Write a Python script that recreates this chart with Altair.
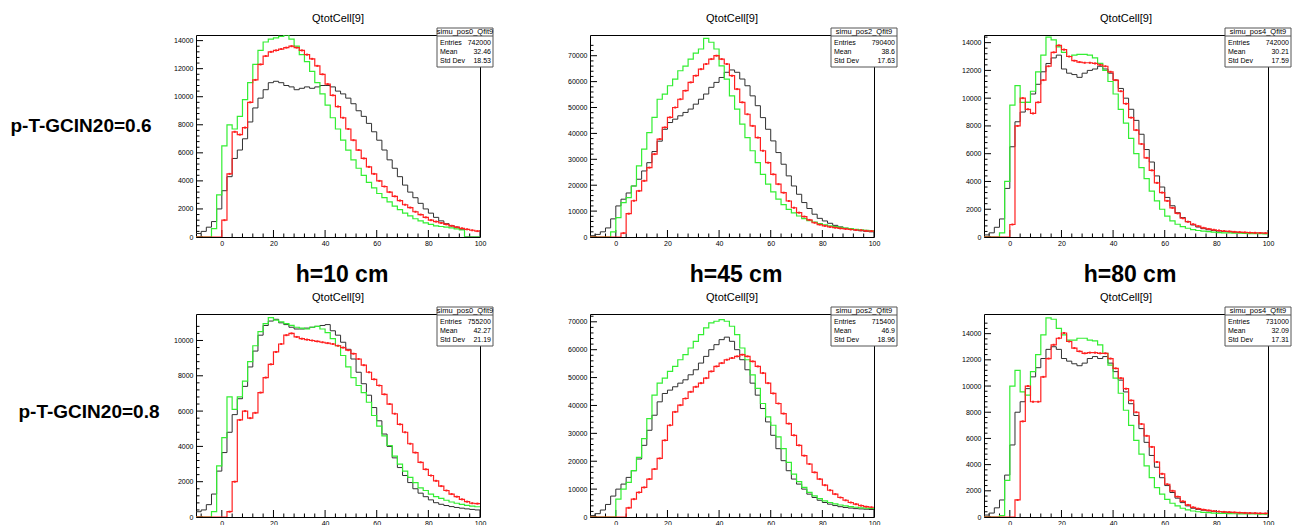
import altair as alt
import pandas as pd

FONT = "Liberation Sans"

# lower bin edges (2-unit bins from -10 to 100)
BIN_EDGES = list(range(-10, 100, 2))
X_END = 100
X_MAJOR = [0, 20, 40, 60, 80, 100]
X_MINOR = [-8, -4, 4, 8, 12, 16, 24, 28, 32, 36, 44, 48, 52, 56, 64, 68, 72, 76, 84, 88, 92, 96]

# ---- row 1 : p-T-GCIN20=0.6 ----
P1_BLACK = [250, 400, 700, 1100, 2000, 3300, 4300, 5600, 6200, 7000,
            8200, 9200, 9900, 10500, 11000, 11100, 11000, 10800, 10700, 10500,
            10600, 10700, 10600, 10700, 10800, 10800, 10700, 10400, 10200, 9900,
            9500, 9000, 8600, 8100, 7500, 6900, 6200, 5500, 4900, 4300,
            3700, 3200, 2800, 2400, 2000, 1700, 1400, 1150, 950, 800,
            700, 550, 0, 0, 0]
P1_GREEN = [0, 0, 0, 600, 3000, 6500, 8000, 7700, 8600, 9800,
            11000, 12300, 13300, 13900, 14100, 14200, 14300, 14400, 14100, 13600,
            13000, 12500, 11800, 11000, 10200, 9400, 8500, 7700, 6900, 6200,
            5500, 4900, 4400, 3900, 3500, 3100, 2800, 2500, 2200, 1950,
            1700, 1500, 1300, 1150, 1000, 900, 800, 750, 700, 650,
            580, 500, 0, 0, 0]
P1_RED = [0, 0, 0, 0, 0, 1200, 4500, 7500, 7300, 7800,
          9600, 11200, 12300, 12900, 13200, 13300, 13400, 13500, 13600, 13500,
          13300, 13000, 12700, 12200, 11600, 10900, 10100, 9300, 8500, 7700,
          6900, 6200, 5600, 5000, 4500, 4000, 3600, 3200, 2900, 2600,
          2300, 2100, 1800, 1600, 1400, 1200, 1100, 1000, 900, 800,
          700, 620, 550, 480, 420]

P2_BLACK = [500, 1000, 2000, 3500, 7000, 12000, 14600, 17000, 19700, 22300,
            25500, 28700, 33000, 37000, 41600, 44200, 45500, 46800, 48100, 49400,
            51300, 53200, 55200, 57800, 59700, 61600, 63600, 64500, 63600, 61000,
            58400, 54500, 50700, 46100, 41600, 37100, 32600, 28100, 23600, 19700,
            16500, 13300, 11000, 8800, 7200, 6200, 5300, 4500, 3900, 3400,
            3000, 2700, 2400, 2200, 2000]
P2_GREEN = [0, 0, 0, 0, 2000, 7500, 13300, 15200, 19700, 27500,
            33900, 40300, 46200, 53200, 55200, 58400, 61000, 64200, 66000, 68700,
            71000, 72600, 76700, 75200, 72600, 66100, 61000, 54500, 49400, 43600,
            38400, 33300, 28700, 24200, 20400, 17400, 14600, 12500, 10700, 9300,
            8100, 7100, 6300, 5800, 5200, 4700, 4300, 4000, 3700, 3400,
            3200, 3000, 2800, 2600, 2400]
P2_RED = [0, 0, 0, 0, 0, 0, 1500, 9000, 14000, 17800,
          21700, 26800, 32000, 37800, 42300, 46200, 50000, 53200, 56500, 59700,
          62300, 64800, 66800, 68700, 70000, 68700, 66800, 62300, 57100, 52000,
          47400, 42900, 38400, 33300, 28700, 24200, 20400, 17100, 13900, 11300,
          9400, 7900, 6600, 5500, 4800, 4300, 3900, 3600, 3300, 3100,
          2900, 2700, 2600, 2400, 2300]

P3_BLACK = [150, 300, 700, 1300, 3500, 6500, 8300, 9000, 9700, 10300,
            11000, 11900, 12500, 12900, 13100, 12100, 11800, 11700, 11500, 11800,
            12000, 12100, 12300, 12100, 11800, 11300, 10700, 10000, 9200, 8400,
            7400, 6300, 5400, 4400, 3600, 2850, 2250, 1750, 1400, 1100,
            870, 720, 600, 520, 470, 430, 400, 370, 340, 320,
            300, 290, 280, 270, 260]
P3_GREEN = [0, 0, 0, 300, 4000, 9500, 10900, 9700, 9700, 10500,
            11900, 13100, 14400, 14200, 13700, 13300, 13000, 13100, 13150, 13150,
            13100, 12900, 12500, 12000, 11200, 10300, 9200, 8200, 7100, 6000,
            5000, 4200, 3300, 2600, 2000, 1500, 1160, 920, 750, 630,
            530, 470, 420, 380, 350, 320, 300, 290, 280, 270,
            260, 250, 240, 240, 230]
P3_RED = [0, 0, 0, 0, 0, 900, 8000, 10000, 9200, 8900,
          9700, 11300, 12300, 13300, 13800, 13500, 13000, 12700, 12600, 12550,
          12550, 12500, 12400, 12300, 11900, 11300, 10500, 9600, 8600, 7700,
          6700, 5700, 4800, 3900, 3200, 2600, 2100, 1700, 1350, 1100,
          920, 780, 660, 580, 520, 470, 430, 400, 370, 350,
          330, 310, 300, 290, 280]

# ---- row 2 : p-T-GCIN20=0.8 ----
P4_BLACK = [300, 400, 700, 1300, 2600, 3650, 4800, 5800, 6700, 7400,
            8500, 9400, 10300, 10850, 11100, 11200, 11000, 10900, 10750, 10650,
            10650, 10700, 10750, 10800, 10850, 10900, 10550, 10300, 9900, 9500,
            8950, 8200, 7550, 6900, 6200, 5450, 4700, 4000, 3350, 2800,
            2350, 1950, 1600, 1350, 1150, 970, 810, 720, 650, 590,
            540, 500, 460, 430, 400]
P4_GREEN = [0, 0, 0, 300, 2900, 4500, 6800, 6100, 6800, 7700,
            8800, 9700, 10500, 10950, 11300, 11150, 11050, 10950, 10850, 10750,
            10700, 10650, 10750, 10800, 10650, 10450, 10100, 9700, 9150, 8500,
            7900, 7450, 7050, 6500, 5750, 5150, 4600, 4050, 3450, 3000,
            2600, 2250, 1950, 1650, 1500, 1300, 1150, 1050, 950, 850,
            780, 720, 660, 620, 580]
P4_RED = [0, 0, 0, 0, 0, 0, 300, 2000, 5500, 6000,
          5600, 5900, 7050, 7900, 8650, 9350, 9800, 10300, 10400, 10200,
          10100, 10050, 10000, 9950, 9900, 9850, 9800, 9700, 9600, 9450,
          9250, 8950, 8600, 8200, 7800, 7450, 6950, 6400, 5850, 5250,
          4800, 4150, 3650, 3100, 2700, 2350, 2050, 1750, 1500, 1300,
          1150, 1000, 870, 780, 760]

P5_BLACK = [500, 1200, 2500, 4500, 7500, 10000, 11800, 14200, 16600, 20800,
            25700, 31100, 36500, 41300, 44300, 45500, 46700, 48000, 49200, 51000,
            52800, 55200, 57600, 60000, 61800, 63600, 64500, 63000, 60000, 56400,
            52800, 48000, 43700, 38900, 34100, 29300, 24500, 20200, 16600, 13600,
            11800, 10000, 8200, 7000, 6000, 5200, 4600, 4100, 3700, 3400,
            3200, 3000, 2900, 2800, 2700]
P5_GREEN = [0, 0, 0, 0, 0, 6400, 10000, 12400, 16600, 21400,
            28100, 35300, 43700, 48000, 49800, 52200, 54000, 56400, 58200, 60600,
            63000, 65400, 67800, 69600, 70200, 70800, 70200, 68400, 65400, 60600,
            56400, 51000, 46100, 40700, 35900, 32900, 28700, 24500, 19600, 15400,
            12700, 10600, 8800, 7600, 6600, 5800, 5200, 4700, 4300, 4000,
            3700, 3500, 3300, 3200, 3100]
P5_RED = [0, 0, 0, 0, 0, 0, 0, 3300, 6400, 8800,
          10600, 13600, 17200, 21000, 27500, 32900, 37700, 40100, 42500, 44900,
          46700, 48000, 49800, 52200, 54000, 55200, 56400, 57000, 57600, 58200,
          57600, 55800, 54000, 51600, 48000, 44300, 40700, 37100, 33500, 29300,
          25700, 22000, 19000, 16000, 13600, 11400, 9600, 8200, 7000, 6000,
          5200, 4600, 4100, 3700, 3500]

P6_BLACK = [150, 300, 700, 1300, 3200, 5500, 8000, 8800, 9800, 10700,
            11400, 12100, 12800, 13000, 12800, 12100, 11900, 11700, 11550, 11750,
            12100, 12250, 12100, 12250, 11750, 11100, 10450, 9550, 8650, 7750,
            6750, 5700, 4700, 3800, 3000, 2400, 1870, 1440, 1100, 850,
            670, 580, 520, 470, 430, 400, 370, 350, 330, 310,
            300, 290, 280, 270, 260]
P6_GREEN = [0, 0, 0, 100, 2800, 10000, 11200, 9550, 9300, 11100,
            12400, 13900, 15200, 15100, 14400, 13900, 13500, 13500, 13650, 13650,
            13500, 13450, 13150, 12500, 11600, 10600, 9450, 8150, 7000, 5850,
            4800, 3900, 3000, 2250, 1750, 1350, 1050, 850, 670, 540,
            460, 400, 360, 330, 300, 280, 270, 260, 250, 240,
            240, 230, 230, 220, 220]
P6_RED = [0, 0, 0, 0, 0, 0, 1300, 7300, 10000, 8800,
          8800, 10700, 12100, 13150, 13650, 14050, 13400, 12900, 12650, 12500,
          12550, 12550, 12500, 12500, 12100, 11350, 10600, 9800, 8900, 8000,
          7100, 6200, 5350, 4200, 3300, 2500, 2000, 1550, 1200, 920,
          740, 640, 560, 500, 450, 420, 390, 370, 350, 330,
          310, 300, 290, 280, 270]

Y_MAX = [14400, 78000, 14550, 11500, 72800, 15500]
Y_LABELS_14K = [0, 2000, 4000, 6000, 8000, 10000, 12000, 14000]
Y_LABELS_10K = [0, 2000, 4000, 6000, 8000, 10000]
Y_LABELS_70K = [0, 10000, 20000, 30000, 40000, 50000, 60000, 70000]

STAT_NAMES = ["simu_pos0_Qfit9", "simu_pos2_Qfit9", "simu_pos4_Qfit9",
              "simu_pos0_Qfit9", "simu_pos2_Qfit9", "simu_pos4_Qfit9"]
STAT_ENTRIES = ["742000", "790400", "742000", "755200", "715400", "731000"]
STAT_MEAN = ["32.46", "38.6", "30.21", "42.27", "46.9", "32.09"]
STAT_STD = ["18.53", "17.63", "17.59", "21.19", "18.96", "17.31"]

ROW_LABELS = ["p-T-GCIN20=0.6", "p-T-GCIN20=0.8"]
COL_LABELS = ["h=10 cm", "h=45 cm", "h=80 cm"]
TITLE = "QtotCell[9]"

for arr in [P1_BLACK, P1_GREEN, P1_RED, P2_BLACK, P2_GREEN, P2_RED, P3_BLACK, P3_GREEN, P3_RED,
            P4_BLACK, P4_GREEN, P4_RED, P5_BLACK, P5_GREEN, P5_RED, P6_BLACK, P6_GREEN, P6_RED]:
    assert len(arr) == len(BIN_EDGES), len(arr)

BLACK = "#303030"
GREEN = "#33ee33"
RED = "#ff2020"
W = 284
H_TOP = 202
H_BOT = 203
ONE = pd.DataFrame({"a": [0]})


def step_df(vals):
    return pd.DataFrame({"x": BIN_EDGES + [X_END], "n": list(vals) + [vals[-1]]})


def minor_ticks(major):
    step = (major[1] - major[0]) / 5
    out = []
    v = step
    while v < major[-1] + 3 * step:
        if all(abs(v - m) > 1e-6 for m in major):
            out.append(v)
        v += step
    return out


def panel(idx, black, green, red, ylabels, h, box_w, row_label=None, col_label=None):
    ymax = Y_MAX[idx]
    xs = alt.Scale(domain=[-10, 100], nice=False, zero=False)
    ys = alt.Scale(domain=[0, ymax], nice=False, zero=True)
    xax = alt.Axis(values=X_MAJOR, title=None, ticks=False, domain=False, grid=False, format="d",
                   labelFontSize=7, labelFont=FONT, labelColor="black", labelPadding=2,
                   labelFlush=False, labelOverlap=False)
    yax = alt.Axis(values=ylabels, title=None, ticks=False, domain=False, grid=False, format="d",
                   labelFontSize=7, labelFont=FONT, labelColor="black", labelPadding=3,
                   labelFlush=False, labelOverlap=False)
    X = lambda f: alt.X(f, scale=xs, axis=xax)
    Y = lambda f: alt.Y(f, scale=ys, axis=yax)

    def line(vals, color, sw):
        return alt.Chart(step_df(vals)).mark_line(
            interpolate="step-after", color=color, strokeWidth=sw, clip=True
        ).encode(x=X("x:Q"), y=Y("n:Q"))

    red_pts = pd.DataFrame({"x": [e + 1 for e in BIN_EDGES], "n": red})
    red_pts = red_pts[red_pts["n"] > 0]
    pts = alt.Chart(red_pts).mark_square(color=RED, size=4, opacity=1).encode(x=X("x:Q"), y=Y("n:Q"))

    ymin_ticks = [v for v in minor_ticks(ylabels) if v < ymax]
    yt_major = alt.Chart(pd.DataFrame({"v": ylabels})).mark_rule(color="black", strokeWidth=1).encode(
        y=Y("v:Q"), x=alt.value(0), x2=alt.value(7))
    yt_minor = alt.Chart(pd.DataFrame({"v": ymin_ticks})).mark_rule(color="black", strokeWidth=1).encode(
        y=Y("v:Q"), x=alt.value(0), x2=alt.value(3.5))
    xt_major = alt.Chart(pd.DataFrame({"v": X_MAJOR})).mark_rule(color="black", strokeWidth=1).encode(
        x=X("v:Q"), y=alt.value(h), y2=alt.value(h - 7))
    xt_minor = alt.Chart(pd.DataFrame({"v": X_MINOR})).mark_rule(color="black", strokeWidth=1).encode(
        x=X("v:Q"), y=alt.value(h), y2=alt.value(h - 3.5))

    bx0, bx1, by0, by1 = 241, 241 + box_w, -7, 32
    box = alt.Chart(ONE).mark_rect(fill="white", stroke="#555555", strokeWidth=1).encode(
        x=alt.value(bx0), x2=alt.value(bx1), y=alt.value(by0), y2=alt.value(by1))
    sep = alt.Chart(ONE).mark_rule(color="#555555", strokeWidth=1).encode(
        x=alt.value(bx0), x2=alt.value(bx1), y=alt.value(1))

    def txt(s, x, y, align, size=7, weight="normal"):
        return alt.Chart(ONE).mark_text(text=s, align=align, baseline="middle", font=FONT,
                                        fontSize=size, fontWeight=weight, color="black").encode(
            x=alt.value(x), y=alt.value(y))

    texts = [
        txt(TITLE, W / 2, -16, "center", 11),
        txt(STAT_NAMES[idx], (bx0 + bx1) / 2, -3, "center", 7.5),
        txt("Entries", bx0 + 3, 8, "left"),
        txt(STAT_ENTRIES[idx], bx1 - 2, 8, "right"),
        txt("Mean", bx0 + 3, 17, "left"),
        txt(STAT_MEAN[idx], bx1 - 2, 17, "right"),
        txt("Std Dev", bx0 + 3, 26, "left"),
        txt(STAT_STD[idx], bx1 - 2, 26, "right"),
    ]

    layers = [yt_major, yt_minor, xt_major, xt_minor,
              line(black, BLACK, 1), line(green, GREEN, 1.2), line(red, RED, 1.2), pts,
              box, sep] + texts

    if row_label is not None:
        txt_, rx, ry = row_label
        layers.append(txt(txt_, rx, ry, "center", 19, "bold"))
    if col_label is not None:
        layers.append(txt(col_label, W / 2 + 4, -39, "center", 23, "bold"))

    return alt.layer(*layers).properties(width=W, height=h)


p1 = panel(0, P1_BLACK, P1_GREEN, P1_RED, Y_LABELS_14K, H_TOP, 56, row_label=(ROW_LABELS[0], -115, 91))
p2 = panel(1, P2_BLACK, P2_GREEN, P2_RED, Y_LABELS_70K, H_TOP, 66)
p3 = panel(2, P3_BLACK, P3_GREEN, P3_RED, Y_LABELS_14K, H_TOP, 66)
p4 = panel(3, P4_BLACK, P4_GREEN, P4_RED, Y_LABELS_10K, H_BOT, 56,
           row_label=(ROW_LABELS[1], -107, 98), col_label=COL_LABELS[0])
p5 = panel(4, P5_BLACK, P5_GREEN, P5_RED, Y_LABELS_70K, H_BOT, 66, col_label=COL_LABELS[1])
p6 = panel(5, P6_BLACK, P6_GREEN, P6_RED, Y_LABELS_14K, H_BOT, 66, col_label=COL_LABELS[2])

chart = alt.concat(p1, p2, p3, p4, p5, p6, columns=3,
                   spacing={"row": 77, "column": 110}, bounds="flush").properties(
    padding={"left": 2, "top": 4, "right": 5, "bottom": 5},
    background="white",
).configure_view(stroke="black", strokeWidth=1)

chart.save("out.html", embed_options={"renderer": "svg", "actions": False})
